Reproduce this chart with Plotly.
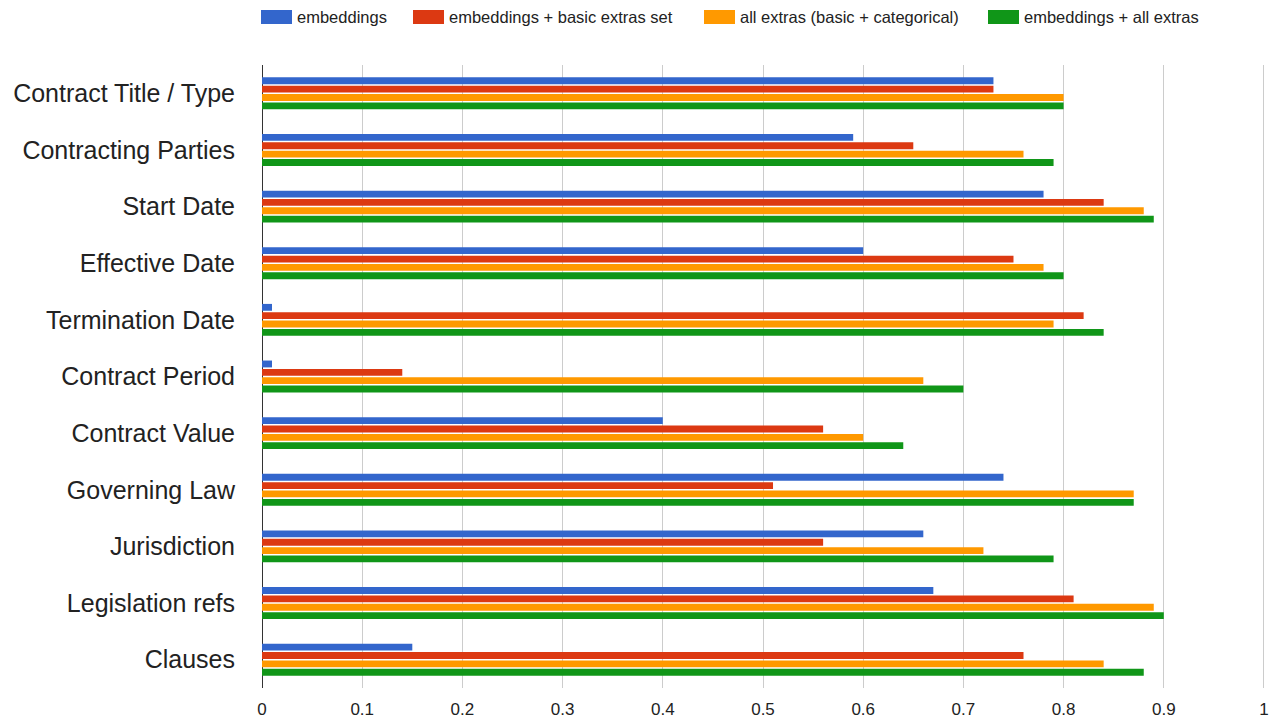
import plotly.graph_objects as go

categories = [
    "Contract Title / Type", "Contracting Parties", "Start Date", "Effective Date",
    "Termination Date", "Contract Period", "Contract Value", "Governing Law",
    "Jurisdiction", "Legislation refs", "Clauses",
]
embeddings = [0.73, 0.59, 0.78, 0.60, 0.01, 0.01, 0.40, 0.74, 0.66, 0.67, 0.15]
emb_basic_extras = [0.73, 0.65, 0.84, 0.75, 0.82, 0.14, 0.56, 0.51, 0.56, 0.81, 0.76]
all_extras = [0.80, 0.76, 0.88, 0.78, 0.79, 0.66, 0.60, 0.87, 0.72, 0.89, 0.84]
emb_all_extras = [0.80, 0.79, 0.89, 0.80, 0.84, 0.70, 0.64, 0.87, 0.79, 0.90, 0.88]

series_names = [
    "embeddings",
    "embeddings + basic extras set",
    "all extras (basic + categorical)",
    "embeddings + all extras",
]
series_values = [embeddings, emb_basic_extras, all_extras, emb_all_extras]
series_colors = ["#3366cc", "#dc3912", "#ff9900", "#109618"]

W, H = 1274, 724
X_MAX = 1.004
M_L, M_T, M_B = 262, 65, 36
PW = round(1002 * X_MAX)
M_R = W - M_L - PW
PH = H - M_T - M_B

fig = go.Figure()
for name, vals, color in zip(series_names, series_values, series_colors):
    fig.add_trace(go.Bar(
        y=categories, x=vals, name=name, orientation="h",
        marker=dict(color=color, line=dict(width=0)),
        showlegend=False,
    ))

# Legend row above the plot: wide colour swatches followed by the series name
legend_left_px = [261, 413, 704, 988]
swatch_w, swatch_h, legend_mid_px = 31, 14, 17
for left, name, color in zip(legend_left_px, series_names, series_colors):
    x0 = (left - M_L) / PW
    x1 = (left + swatch_w - M_L) / PW
    y0 = (H - M_B - (legend_mid_px + swatch_h / 2)) / PH
    y1 = (H - M_B - (legend_mid_px - swatch_h / 2)) / PH
    fig.add_shape(type="rect", xref="paper", yref="paper",
                  x0=x0, x1=x1, y0=y0, y1=y1,
                  fillcolor=color, line=dict(width=0))
    fig.add_annotation(xref="paper", yref="paper",
                       x=(left + swatch_w + 3 - M_L) / PW,
                       y=(H - M_B - legend_mid_px) / PH,
                       xanchor="left", yanchor="middle", showarrow=False,
                       text=name, font=dict(size=16.5, color="#222222"))

fig.update_layout(
    width=W, height=H,
    margin=dict(l=M_L, r=M_R, t=M_T, b=M_B, autoexpand=False),
    paper_bgcolor="white", plot_bgcolor="white",
    barmode="group", bargap=0.41, bargroupgap=0.18,
    font=dict(family="Liberation Sans, Arial, sans-serif", color="#222222"),
)
fig.update_xaxes(
    range=[0, X_MAX], dtick=0.1, tick0=0,
    showgrid=True, gridcolor="#cccccc", gridwidth=1,
    zeroline=True, zerolinecolor="#333333", zerolinewidth=1,
    showline=False, ticks="",
    tickfont=dict(size=17, color="#222222"),
    ticklabelstandoff=9, automargin=False,
)
fig.update_yaxes(
    autorange="reversed", showgrid=False, showline=False, ticks="",
    tickfont=dict(size=25, color="#222222"),
    ticklabelstandoff=26, automargin=False,
)
fig.write_html("out.html")
